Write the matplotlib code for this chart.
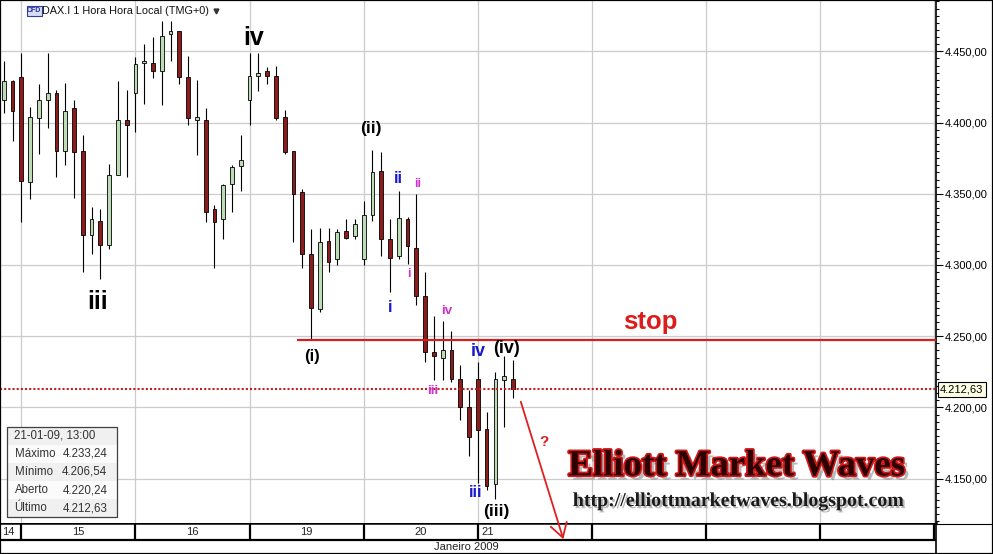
import matplotlib
matplotlib.use('Agg')
import matplotlib.pyplot as plt
import matplotlib.patheffects as pe
import matplotlib.transforms as mtrans
from matplotlib.patches import Rectangle
from matplotlib.lines import Line2D
from matplotlib.ticker import MultipleLocator, FuncFormatter

plt.rcParams['font.family'] = ['Liberation Sans', 'DejaVu Sans']

# DAX.I hourly candles, 14 to 21 January 2009
opens = [4416, 4429, 4432, 4358, 4403, 4416, 4421, 4380, 4410, 4380,
         4321, 4331, 4314, 4363, 4402, 4421, 4441.5, 4442, 4436, 4462,
         4464, 4432, 4402, 4402, 4339, 4332, 4357, 4369.5, 4416, 4433,
         4436, 4433, 4404, 4380, 4351, 4308, 4269, 4317, 4304, 4324,
         4320, 4304, 4335, 4366, 4318, 4306, 4332, 4312, 4278, 4239,
         4235, 4240, 4220, 4200, 4220, 4185, 4146, 4219, 4220.24]
highs = [4443, 4430, 4449, 4411, 4427, 4449, 4423, 4428, 4416, 4391,
         4341, 4339, 4371, 4429, 4423, 4446, 4455, 4460, 4471, 4471,
         4464, 4447, 4430, 4410, 4342, 4357, 4370, 4391, 4449, 4449,
         4439, 4440, 4409, 4380, 4353, 4325, 4326, 4326, 4325, 4332,
         4332, 4345, 4381, 4379, 4332, 4352, 4334, 4350, 4295, 4264,
         4261, 4254, 4230, 4212, 4232, 4197, 4225, 4236, 4233.24]
lows = [4407, 4387, 4330, 4346, 4378, 4396, 4362, 4370, 4347, 4295,
        4308, 4290, 4311, 4363, 4362, 4393, 4413, 4431, 4412, 4443,
        4427, 4398, 4377, 4330, 4298, 4318, 4337, 4352, 4398, 4422,
        4427, 4402, 4378, 4316, 4298, 4247, 4267, 4295, 4300, 4318,
        4318, 4300, 4331, 4306, 4281, 4304, 4301, 4272, 4232, 4219,
        4219, 4218, 4191, 4166, 4147, 4142, 4136, 4186, 4206.54]
closes = [4429, 4408, 4359, 4404, 4416, 4421, 4380, 4408, 4379, 4321,
          4332, 4314, 4363, 4402, 4398, 4441, 4443, 4436, 4461, 4464,
          4432, 4403, 4404, 4337, 4330, 4356, 4369, 4374, 4433, 4435,
          4433, 4403, 4379, 4350, 4308, 4270, 4316, 4302, 4323, 4319,
          4329, 4335, 4365, 4318, 4305, 4333, 4313, 4278, 4239, 4236,
          4240, 4220, 4200, 4179, 4184, 4145, 4220, 4222, 4212.63]

day_labels = ['14', '15', '16', '19', '20', '21']
candles_per_day = 13
first_full_day = 2          # index of the first candle of the 15th
stop_level = 4247
last_price = 4212.63

info_title = '21-01-09, 13:00'
info_rows = [('Máximo', '4.233,24'), ('Mínimo', '4.206,54'),
             ('Aberto', '4.220,24'), ('Último', '4.212,63')]

BLUE = '#1a1acd'
MAG = '#cc33cc'
RED = '#dd1c1c'
wave_labels = [
    ('iv', 28.5, 4459, 'black', 18),
    ('iii', 10.7, 4274, 'black', 18),
    ('(ii)', 41.85, 4396, 'black', 12.5),
    ('ii', 45.0, 4361, BLUE, 12),
    ('ii', 47.2, 4357, MAG, 9),
    ('i', 46.1, 4294, MAG, 9),
    ('i', 44.0, 4270.5, BLUE, 12),
    ('(i)', 35.1, 4235.5, 'black', 12),
    ('iv', 50.5, 4268, MAG, 9.5),
    ('iii', 48.9, 4211.5, MAG, 9.5),
    ('iv', 54.1, 4239.5, BLUE, 13),
    ('(iv)', 57.3, 4241.5, 'black', 13),
    ('iii', 53.8, 4140, BLUE, 12),
    ('(iii)', 56.1, 4127, 'black', 12.5),
    ('stop', 73.7, 4260, RED, 18.5),
    ('?', 61.5, 4176, RED, 11),
]

W, H = 993, 554
fig = plt.figure(figsize=(W / 100, H / 100), dpi=100)


def fx(px):
    return px / W


def fy(py):
    return 1 - py / H


ax = fig.add_axes([0, fy(523), fx(936), (523 - 1) / H], zorder=2)
band = fig.add_axes([0, 0, fx(936), 31 / H], sharex=ax, zorder=1)

n = len(opens)
idx = list(range(n))
bottoms = [min(o, c) for o, c in zip(opens, closes)]
heights = [max(abs(c - o), 1.2) for o, c in zip(opens, closes)]
colors = ['#bcdcb6' if c >= o else '#8c1c1c' for o, c in zip(opens, closes)]

ax.vlines(idx, lows, highs, color='black', lw=0.8, zorder=3)
ax.bar(idx, heights, bottom=bottoms, width=0.42, color=colors,
       edgecolor='black', linewidth=0.6, zorder=4)

ax.set_xlim(-0.43, 106.2)
ax.set_ylim(4118.9, 4485.3)

# grid
boundaries = list(range(first_full_day, 107, candles_per_day))
for b in boundaries:
    ax.axvline(b, color='#cccccc', lw=0.9, zorder=1)
for yv in range(4150, 4451, 50):
    ax.axhline(yv, color='#cccccc', lw=0.9, zorder=1)

# price axis on the right
ax.yaxis.tick_right()
ax.yaxis.set_major_locator(MultipleLocator(50))
ax.yaxis.set_minor_locator(MultipleLocator(5))
ax.yaxis.set_major_formatter(FuncFormatter(
    lambda v, p: f'{v:,.2f}'.replace(',', 'X').replace('.', ',').replace('X', '.')))
ax.tick_params(axis='y', which='major', length=5, width=0.8, pad=1,
               labelsize=8, direction='out')
ax.tick_params(axis='y', which='minor', length=2.5, width=0.8, direction='out')
ax.tick_params(axis='x', which='both', bottom=False, labelbottom=False)
for s in ['left', 'top', 'bottom']:
    ax.spines[s].set_visible(False)
ax.spines['right'].set_linewidth(1.2)

# stop line and last price line
ax.hlines(stop_level, 33.4, 106.2, color='#d42020', lw=1.6, zorder=5)
ax.axhline(last_price, color='#c42020', lw=1.5, ls=(0, (1, 1)), zorder=5)
blend = mtrans.blended_transform_factory(ax.transAxes, ax.transData)
ax.text(1 + 4 / 936, last_price, '4.212,63', transform=blend, ha='left',
        va='center', fontsize=8, clip_on=False, zorder=10,
        bbox=dict(boxstyle='square,pad=0.2', fc='#ffffe6', ec='black', lw=0.8))

for txt, xi, yp, col, size in wave_labels:
    ax.text(xi, yp, txt, color=col, fontsize=size, fontweight='bold',
            ha='center', va='center', zorder=6)

ax.annotate('', xy=(63.75, 4107.5), xytext=(58.9, 4204),
            arrowprops=dict(arrowstyle='->,head_length=1.0,head_width=0.6',
                            color='#e02020', lw=1.3, shrinkA=0, shrinkB=0,
                            mutation_scale=10),
            annotation_clip=False, zorder=7)

ax.text(83.5, 4159, 'Elliott Market Waves', family='Liberation Serif',
        fontweight='bold', fontsize=26.5, color='#2b0000', ha='center',
        va='center', zorder=6,
        path_effects=[pe.SimplePatchShadow(offset=(3, -3), shadow_rgbFace='#777777', alpha=0.5),
                      pe.Stroke(linewidth=2.5, foreground='#d01818'), pe.Normal()])
ax.text(83.65, 4134.3, 'http://elliottmarketwaves.blogspot.com',
        family='Liberation Serif', fontweight='bold', fontsize=14.3,
        color='#1a1a1a', ha='center', va='center', zorder=6,
        path_effects=[pe.SimplePatchShadow(offset=(1.5, -1.5), shadow_rgbFace='#999999', alpha=0.7),
                      pe.Normal()])

# date band
band.set_ylim(0, 31)
band.set_xticks([])
band.set_yticks([])
for s in ['left', 'bottom']:
    band.spines[s].set_visible(False)
band.spines['top'].set_linewidth(1.8)
band.spines['right'].set_linewidth(1.2)
band.axhline(14.3, color='black', lw=1.6)
band.vlines(boundaries, 14.3, 31, color='black', lw=1.6)
day_pos = [-0.2] + [b + candles_per_day / 2 for b in boundaries[:4]] + [boundaries[4] + 0.4]
for i, (lab, xp) in enumerate(zip(day_labels, day_pos)):
    ha = 'center' if 0 < i < len(day_labels) - 1 else 'left'
    band.text(xp, 22.3, lab, ha=ha, va='center', fontsize=8, color='#222222')
band.text(52.7, 7.3, 'Janeiro 2009', ha='center', va='center', fontsize=8,
          color='#222222')

# header
fig.add_artist(Rectangle((fx(27), fy(15.5)), fx(41.5) - fx(27), fy(6.5) - fy(15.5),
                         transform=fig.transFigure, fc='#d8dcf4', ec='#3040a0',
                         lw=0.8, zorder=5))
fig.text(fx(34.3), fy(11), 'CFD', fontsize=5, fontweight='bold', color='#2030a0',
         ha='center', va='center', zorder=6)
fig.text(fx(42.5), fy(11), 'DAX.I 1 Hora Hora Local (TMG+0)', fontsize=7.8,
         ha='left', va='center', color='#111111', zorder=6)
fig.add_artist(Line2D([fx(216)], [fy(10.5)], marker='v', ms=3.5, color='#333333',
                      transform=fig.transFigure, zorder=6))

# info box
x0, x1, ytop, ybot = 7.3, 117.3, 426.7, 517.3
rh = (ybot - ytop) / 5
rows = [(info_title, '')] + info_rows
for r, (lab, val) in enumerate(rows):
    y_top = ytop + r * rh
    fig.add_artist(Rectangle((fx(x0), fy(y_top + rh)), fx(x1) - fx(x0), rh / H,
                             transform=fig.transFigure, lw=0, zorder=5,
                             fc='#f0f0f0' if r % 2 == 0 else '#fbfbfb'))
    fig.text(fx(14.5), fy(y_top + rh / 2), lab, fontsize=8.3, color='#333333',
             ha='left', va='center', zorder=7)
    if val:
        fig.text(fx(107.5), fy(y_top + rh / 2), val, fontsize=8.3, color='#333333',
                 ha='right', va='center', zorder=7)
fig.add_artist(Rectangle((fx(x0), fy(ybot)), fx(x1) - fx(x0), (ybot - ytop) / H,
                         transform=fig.transFigure, fill=False, ec='#404040',
                         lw=0.9, zorder=6))

# frame
fig.add_artist(Line2D([fx(936), 1], [fy(524), fy(524)], color='black', lw=0.8,
                      transform=fig.transFigure, zorder=6))
fig.add_artist(Rectangle((0, 0), 1, 1, transform=fig.transFigure, fill=False,
                         ec='black', lw=1.6, zorder=8))

fig.savefig('out.png', dpi=100, facecolor='white')
